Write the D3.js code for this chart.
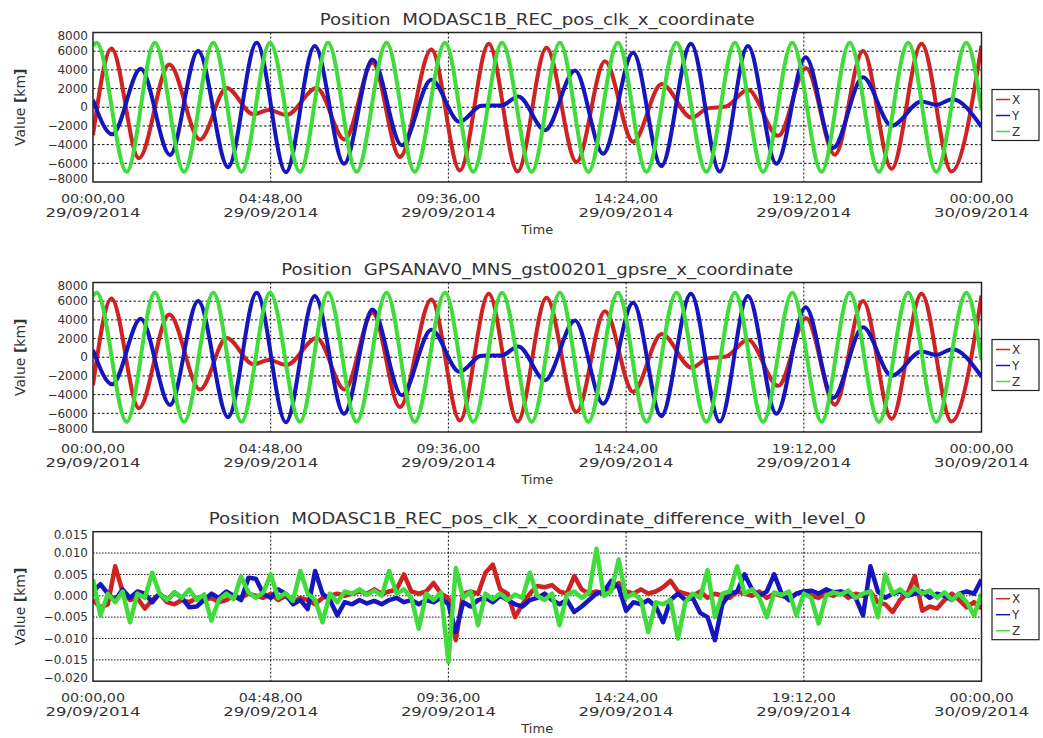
<!DOCTYPE html>
<html lang="en">
  <head>
    <meta charset="utf-8" />
    <title>Position x coordinate</title>
    <script src="https://d3js.org/d3.v7.min.js"></script>
    <style>
      body { margin: 0; background: #fff; }
      text { font-family: "DejaVu Sans", sans-serif; fill: #333; }
    </style>
  </head>
  <body>
    <div id="chart"></div>
    <script>
      // orbit positions, hours after 29/09/2014 00:00 and km (peaks and troughs)
      const xTimes = [0, 0.5, 1.24, 2.06, 2.89, 3.61, 4.33, 4.75, 5.23, 6.04, 6.8, 7.55, 8.29, 9.14, 9.91,
        10.69, 11.47, 12.25, 13.06, 13.83, 14.59, 15.36, 16.17, 16.6, 17.1, 17.69, 18.51, 19.26, 20.04,
        20.8, 21.57, 22.38, 23.19, 24];
      const xValues = [-3000, 6300, -5450, 4570, -3460, 2050, -760, -290, -830, 2050, -3460, 4750, -5330,
        6190, -6770, 6800, -6880, 6370, -5870, 4930, -3710, 2480, -1120, -120, 80, 1870, -3060, 4210,
        -5080, 6010, -6590, 6800, -6880, 6600];

      const yTimes = [0, 0.52, 1.29, 2.08, 2.84, 3.65, 4.42, 5.21, 5.99, 6.78, 7.55, 8.34, 9.14, 9.9,
        10.49, 11.04, 11.49, 12.21, 13.02, 13.78, 14.59, 15.35, 16.15, 16.93, 17.69, 18.46, 19.25, 19.99,
        20.8, 21.57, 22.38, 22.78, 23.21, 24];
      const yValues = [790, -2900, 4110, -5100, 6010, -6410, 6910, -6950, 6550, -6050, 5110, -4070, 2950,
        -1550, 150, 200, 1150, -2450, 3920, -4970, 5830, -6300, 6800, -6880, 6550, -6050, 5360, -4360,
        3200, -1980, 610, 250, 860, -2090];

      const zTimes = [0, 0.1, 0.91, 1.67, 2.46, 3.25, 4.01, 4.78, 5.59, 6.35, 7.12, 7.93, 8.69, 9.51,
        10.27, 11.05, 11.85, 12.61, 13.38, 14.18, 14.95, 15.76, 16.57, 17.34, 18.1, 18.89, 19.68, 20.44,
        21.23, 22.02, 22.78, 23.59, 24];
      const zValues = [6600, 6900, -6900, 6900, -6900, 6900, -6900, 6900, -6900, 6900, -6900, 6900, -6900,
        6900, -6900, 6900, -6900, 6900, -6900, 6900, -6900, 6900, -6900, 6900, -6900, 6900, -6900, 6900,
        -6900, 6900, -6900, 6900, -300];

      // difference with level 0, in metres, one sample every diffStep hours
      const diffStep = 0.2;
      const diffX = [-1.0, -2.7, -2.0, 6.9, 1.0, -1.0, -0.5, -3.0, -1.0, 0.5, -1.5, -2.0, -1.0, -1.5,
        -0.5, -1.0, -0.5, -1.5, -1.0, 0.0, -0.5, 0.5, 0.0, -0.5, 0.5, -1.0, 0.0, -1.5, -0.5, -1.0, -2.0,
        -0.5, 0.0, 0.5, 0.0, 0.5, 1.0, 0.5, 1.5, 0.5, 1.0, 1.5, 5.0, 1.0, 0.5, 1.0, 3.0, 0.5, -0.5,
        -10.4, 0.5, 1.0, 0.5, 5.4, 7.3, 1.5, 0.5, -5.0, -2.0, 0.5, 2.3, 2.0, 2.5, 1.0, 0.5, 4.6, 1.5,
        0.5, 1.0, 0.5, 1.5, 3.0, 1.0, 0.5, 1.5, 0.5, 1.0, 2.0, 3.5, 1.0, 0.5, 0.0, 1.0, -0.5, 0.5, 0.0,
        -0.5, 1.0, 0.5, 0.0, 1.0, -0.5, 0.5, 0.0, -0.5, 0.5, 1.0, 0.0, -0.5, 0.5, 0.0, 1.0, -0.5, 0.5,
        0.0, 1.0, -1.5, -2.0, -3.8, -1.0, 0.5, 4.6, -3.5, -2.5, -3.0, -1.0, 0.5, -1.0, -2.7, -1.5, -3.0];
      const diffY = [1.0, 2.7, 0.5, -1.0, 1.5, -0.5, 1.0, 0.5, -1.5, 0.5, -1.0, 0.8, -0.5, -2.7, -2.5,
        -1.0, 0.5, -0.5, 1.0, 0.0, -1.0, 4.2, 4.0, 0.5, -0.5, 1.5, 0.5, -2.0, -1.0, -3.1, 5.8, 0.5, -1.0,
        -4.6, -1.5, -2.0, -1.0, -1.8, -1.2, -2.0, -1.0, -0.5, -1.5, -1.0, -2.0, -1.0, -1.5, -0.5, -2.0,
        -8.5, -1.5, -2.5, -1.0, -0.5, -1.5, 0.0, -1.0, -2.0, -2.5, -1.0, -0.5, 0.5, -1.0, -2.0, -1.0,
        -3.8, -2.5, -1.0, 0.5, 1.0, 3.5, 2.0, -3.5, -1.5, -2.0, -1.0, -2.5, -6.2, -1.0, 0.5, -1.0, -0.5,
        -4.0, -5.0, -10.4, -2.0, 0.5, 1.0, 5.0, 1.5, 0.0, 1.0, 5.0, 0.5, -1.0, 0.5, 1.0, 1.2, 0.5, 1.5,
        0.8, 1.0, 0.5, -0.5, -4.6, 6.9, 1.0, -0.5, 0.5, 1.0, 0.0, 0.5, 1.0, -0.5, 0.5, 0.0, -1.0, 0.5,
        1.0, 0.5, 3.8];
      const diffZ = [3.8, -4.6, 0.5, -1.5, 1.0, -6.2, 0.5, -0.5, 5.4, 0.5, -1.0, 0.8, -0.5, 1.5, -1.0,
        0.3, -5.8, -1.0, 0.5, -0.8, 4.5, 0.8, -0.5, 0.8, 5.0, -0.5, 0.6, -1.2, 5.8, 0.5, -1.0, -6.2, 0.5,
        -1.5, 1.0, 0.5, 1.5, 0.2, 1.2, 0.0, 5.8, 0.5, 1.5, -0.5, -7.7, 0.5, -1.0, 0.8, -15.5, 6.5, -0.5,
        1.0, -6.9, 0.5, -0.8, 0.5, -1.0, 0.3, -0.5, 5.4, 0.0, -1.0, 0.5, -6.9, 0.2, 1.0, -0.5, 0.8, 11.0,
        0.0, 1.0, 8.5, -0.5, 0.5, -1.0, -8.5, -1.5, -2.0, -1.0, -10.0, -1.5, 0.5, -0.5, 6.0, -5.0, 0.5,
        1.0, 6.9, 0.5, 1.5, -0.5, -5.0, 0.8, 0.2, 1.0, -4.6, 0.5, -0.5, -6.5, 0.0, 0.8, 0.3, 1.2, -0.5,
        0.5, 1.0, -5.0, 5.0, 0.5, 1.5, 0.0, 1.8, 0.5, 1.2, -0.5, 0.8, -1.0, 0.5, -1.5, -4.6, 0.5];

      const timeTicks = [0, 4.8, 9.6, 14.4, 19.2, 24];
      const timeLabels = ["00:00,00", "04:48,00", "09:36,00", "14:24,00", "19:12,00", "00:00,00"];
      const dateLabels = ["29/09/2014", "29/09/2014", "29/09/2014", "29/09/2014", "29/09/2014", "30/09/2014"];
      const posTicks = [-8000, -6000, -4000, -2000, 0, 2000, 4000, 6000, 8000];
      const diffTicks = [-0.02, -0.015, -0.01, -0.005, 0, 0.005, 0.01, 0.015];
      const seriesNames = ["X", "Y", "Z"];
      const seriesColors = ["#cf2222", "#1616bd", "#3fdc3c"];
      const panelTitles = [
        "Position  MODASC1B_REC_pos_clk_x_coordinate",
        "Position  GPSANAV0_MNS_gst00201_gpsre_x_coordinate",
        "Position  MODASC1B_REC_pos_clk_x_coordinate_difference_with_level_0"
      ];

      const width = 1043, height = 738;
      const left = 93, right = 981.5, plotH = 149.5;

      const svg = d3.select("#chart").append("svg")
        .attr("width", width).attr("height", height);

      const x = d3.scaleLinear().domain([0, 24]).range([left, right]);

      function zip(ts, vs) {
        return ts.map((t, i) => ({ t: t, v: vs[i] }));
      }
      function fromSteps(vs) {
        return vs.map((m, i) => ({ t: i * diffStep, v: m / 1000 }));
      }

      const orbit = [zip(xTimes, xValues), zip(yTimes, yValues), zip(zTimes, zValues)];
      const diffs = [fromSteps(diffX), fromSteps(diffY), fromSteps(diffZ)];

      const panels = [
        { top: 32.5, domain: [-8000, 8000], ticks: posTicks, fmt: d3.format("d"), series: orbit,
          curve: d3.curveMonotoneX, lw: 4, titleW: 435 },
        { top: 282.5, domain: [-8000, 8000], ticks: posTicks, fmt: d3.format("d"), series: orbit,
          curve: d3.curveMonotoneX, lw: 4, titleW: 512 },
        { top: 531.7, domain: [-0.02, 0.015], ticks: diffTicks, fmt: d3.format(".3f"), series: diffs,
          curve: d3.curveLinear, lw: 4.5, titleW: 657 }
      ];

      panels.forEach(function (p, pi) {
        const g = svg.append("g");
        const y = d3.scaleLinear().domain(p.domain).range([p.top + plotH, p.top]);

        // title
        g.append("text")
          .attr("x", (left + right) / 2)
          .attr("y", p.top - 8)
          .attr("text-anchor", "middle")
          .attr("font-size", 16)
          .attr("textLength", p.titleW)
          .attr("lengthAdjust", "spacingAndGlyphs")
          .style("white-space", "pre")
          .text(panelTitles[pi]);

        // grid
        g.selectAll(".hgrid")
          .data(p.ticks.slice(1, -1))
          .enter().append("line")
          .attr("x1", left).attr("x2", right)
          .attr("y1", d => y(d)).attr("y2", d => y(d))
          .attr("stroke", "#111").attr("stroke-width", 1)
          .attr("stroke-dasharray", pi === 2 ? "1.5,1.5" : "2.5,2");
        g.selectAll(".vgrid")
          .data(timeTicks.slice(1, -1))
          .enter().append("line")
          .attr("y1", p.top).attr("y2", p.top + plotH)
          .attr("x1", d => x(d)).attr("x2", d => x(d))
          .attr("stroke", "#111").attr("stroke-width", 1)
          .attr("stroke-dasharray", "2,2");

        // series
        const clipId = "clip" + pi;
        svg.append("clipPath").attr("id", clipId)
          .append("rect").attr("x", left).attr("y", p.top)
          .attr("width", right - left).attr("height", plotH);

        const line = d3.line().x(d => x(d.t)).y(d => y(d.v)).curve(p.curve);
        g.append("g").attr("clip-path", "url(#" + clipId + ")")
          .selectAll("path")
          .data(p.series)
          .enter().append("path")
          .attr("d", line)
          .attr("fill", "none")
          .attr("stroke", (d, i) => seriesColors[i])
          .attr("stroke-width", p.lw)
          .attr("stroke-linejoin", "round");

        // frame
        g.append("rect")
          .attr("x", left).attr("y", p.top)
          .attr("width", right - left).attr("height", plotH)
          .attr("fill", "none").attr("stroke", "#222").attr("stroke-width", 1.5);

        // y tick labels (end labels nudged inside the frame)
        const nT = p.ticks.length;
        g.selectAll(".ylab")
          .data(p.ticks)
          .enter().append("text")
          .attr("x", left - 5)
          .attr("y", d => y(d))
          .attr("dy", (d, i) => i === 0 ? "0.1em" : i === nT - 1 ? "0.6em" : "0.35em")
          .attr("text-anchor", "end")
          .attr("font-size", 12)
          .text(d => p.fmt(d).replace("-", "\u2212"));

        // x tick labels
        const xl = g.selectAll(".xlab")
          .data(timeTicks)
          .enter().append("g");
        xl.append("text")
          .attr("x", d => x(d))
          .attr("y", p.top + plotH + 20.5)
          .attr("text-anchor", "middle")
          .attr("font-size", 12.5)
          .attr("textLength", 64)
          .attr("lengthAdjust", "spacingAndGlyphs")
          .text((d, i) => timeLabels[i]);
        xl.append("text")
          .attr("x", d => x(d))
          .attr("y", p.top + plotH + 35)
          .attr("text-anchor", "middle")
          .attr("font-size", 12.5)
          .attr("textLength", 95)
          .attr("lengthAdjust", "spacingAndGlyphs")
          .text((d, i) => dateLabels[i]);

        // axis titles
        g.append("text")
          .attr("x", (left + right) / 2)
          .attr("y", p.top + plotH + 52)
          .attr("text-anchor", "middle")
          .attr("font-size", 13)
          .text("Time");

        const yt = g.append("text")
          .attr("transform", "translate(25," + (p.top + plotH / 2) + ") rotate(-90)")
          .attr("text-anchor", "middle")
          .attr("font-size", 14);
        yt.append("tspan").text("Value ");
        yt.append("tspan").attr("font-weight", "bold").text("[");
        yt.append("tspan").text("km");
        yt.append("tspan").attr("font-weight", "bold").text("]");

        // legend
        const lg = g.append("g").attr("transform", "translate(992," + (p.top + 57) + ")");
        lg.append("rect")
          .attr("width", 47).attr("height", 51)
          .attr("fill", "#fff").attr("stroke", "#222").attr("stroke-width", 1.2);
        const item = lg.selectAll(".item")
          .data(seriesNames)
          .enter().append("g")
          .attr("transform", (d, i) => "translate(0," + (10 + i * 16) + ")");
        item.append("line")
          .attr("x1", 4).attr("x2", 18)
          .attr("stroke", (d, i) => seriesColors[i])
          .attr("stroke-width", 1.5);
        item.append("text")
          .attr("x", 20).attr("y", 4.5)
          .attr("font-size", 12)
          .text(d => d);
      });
    </script>
  </body>
</html>
